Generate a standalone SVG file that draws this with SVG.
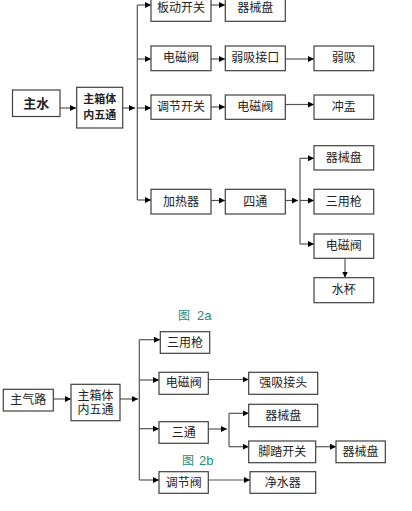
<svg xmlns="http://www.w3.org/2000/svg" width="412" height="511" viewBox="0 0 412 511">
<defs>
<marker id="ah" viewBox="0 0 10 10" refX="10" refY="5" markerWidth="6" markerHeight="6" orient="auto" markerUnits="userSpaceOnUse">
<path d="M0,0 L10,5 L0,10 z" fill="#000"/>
</marker>
</defs>
<style>
.b{fill:#fff;stroke:#404040;stroke-width:1.2}
.t{font-family:"Liberation Sans","Noto Sans CJK SC",sans-serif;font-size:12px;fill:#222;text-anchor:middle;dominant-baseline:central}
.bold{font-weight:bold}
.c{fill:none;stroke:#555;stroke-width:1.2}
.a{fill:none;stroke:#555;stroke-width:1.2;marker-end:url(#ah)}
.cap{font-family:"Liberation Sans","Noto Sans CJK SC",sans-serif;font-size:12px;fill:#1f8a7a}
</style>
<rect width="412" height="511" fill="#fff"/>
<g id="connectors">
<!-- top diagram -->
<path class="a" d="M60,108 H76"/>
<path class="a" d="M123,108 H135"/>
<path class="c" d="M137.3,5 V200"/>
<path class="a" d="M137.3,5 H151"/>
<path class="a" d="M137.3,59 H151"/>
<path class="a" d="M137.3,108 H151"/>
<path class="a" d="M137.3,200 H151"/>
<path class="a" d="M211,5 H225"/>
<path class="a" d="M211,59 H225"/>
<path class="a" d="M285,59 H314"/>
<path class="a" d="M211,107 H225"/>
<path class="a" d="M285,104.5 H314"/>
<path class="a" d="M211,200.5 H225"/>
<path class="a" d="M285,200.5 H298"/>
<path class="c" d="M300,158.3 V244"/>
<path class="a" d="M300,158.3 H314"/>
<path class="a" d="M300,200.5 H314"/>
<path class="a" d="M300,244 H314"/>
<path class="a" d="M345,258.5 V277.5"/>
<!-- bottom diagram -->
<path class="a" d="M53.5,399 H71"/>
<path class="a" d="M120,399 H138"/>
<path class="c" d="M139.3,339.7 V480"/>
<path class="a" d="M139.3,339.7 H160"/>
<path class="a" d="M139.3,380 H159"/>
<path class="a" d="M139.3,428.7 H159"/>
<path class="a" d="M139.3,480 H159"/>
<path class="a" d="M208.3,379.5 H248.7"/>
<path class="a" d="M208.3,429 H227"/>
<path class="c" d="M229,413.3 V446.7"/>
<path class="a" d="M229,413.3 H248.7"/>
<path class="a" d="M229,446.7 H248.7"/>
<path class="a" d="M315.7,446.7 H336"/>
<path class="a" d="M208.3,480 H250"/>
</g>
<g id="n_zhushui"><rect class="b" x="12.5" y="90" width="47.5" height="26.5"/><text class="t bold" x="36.2" y="103.3" style="font-size:13px">主水</text></g>
<g id="n_wutong1"><rect class="b" x="76.7" y="87.3" width="46" height="40.7"/><text class="t bold" x="99.7" y="99" style="font-size:11px">主箱体</text><text class="t bold" x="99.7" y="115" style="font-size:11px">内五通</text></g>
<g id="n_bandong"><rect class="b" x="151" y="-5" width="60" height="26.3"/><text class="t" x="181" y="8">板动开关</text></g>
<g id="n_qixie1"><rect class="b" x="225.3" y="-5" width="60" height="26.3"/><text class="t" x="255.3" y="8">器械盘</text></g>
<g id="n_dianci1"><rect class="b" x="151" y="46" width="60" height="24.7"/><text class="t" x="181" y="58.3">电磁阀</text></g>
<g id="n_ruoxijk"><rect class="b" x="225.3" y="46" width="60" height="24.7"/><text class="t" x="255.3" y="58.3">弱吸接口</text></g>
<g id="n_ruoxi"><rect class="b" x="314" y="46" width="59.7" height="24.7"/><text class="t" x="343.8" y="58.3">弱吸</text></g>
<g id="n_tiaojie"><rect class="b" x="151" y="95" width="60" height="24.3"/><text class="t" x="181" y="107.2">调节开关</text></g>
<g id="n_dianci2"><rect class="b" x="225.3" y="95" width="60" height="24.3"/><text class="t" x="255.3" y="107.2">电磁阀</text></g>
<g id="n_chongyu"><rect class="b" x="314" y="95" width="59.7" height="24.3"/><text class="t" x="343.8" y="107.2">冲盂</text></g>
<g id="n_jiare"><rect class="b" x="151" y="189.3" width="60" height="24.7"/><text class="t" x="181" y="201.6">加热器</text></g>
<g id="n_sitong"><rect class="b" x="225.3" y="189.3" width="60" height="24.7"/><text class="t" x="255.3" y="201.6">四通</text></g>
<g id="n_qixie2"><rect class="b" x="314" y="145.7" width="59.7" height="24.3"/><text class="t" x="343.8" y="157.8">器械盘</text></g>
<g id="n_sanyong1"><rect class="b" x="314" y="189.3" width="59.7" height="24.7"/><text class="t" x="343.8" y="201.6">三用枪</text></g>
<g id="n_dianci3"><rect class="b" x="314" y="234" width="59.7" height="24.3"/><text class="t" x="343.8" y="246.2">电磁阀</text></g>
<g id="n_shuibei"><rect class="b" x="314" y="277.7" width="59.7" height="25"/><text class="t" x="343.8" y="290.2">水杯</text></g>
<g id="cap_2a"><text class="cap" x="178" y="320">图</text><text class="cap" x="197" y="320" style="font-size:13px">2a</text></g>
<g id="n_zhuqilu"><rect class="b" x="3.3" y="389.3" width="50" height="21.7"/><text class="t" x="28.3" y="400.2">主气路</text></g>
<g id="n_wutong2"><rect class="b" x="71" y="384.3" width="49" height="36.4"/><text class="t" x="95.5" y="396">主箱体</text><text class="t" x="95.5" y="410">内五通</text></g>
<g id="n_sanyong2"><rect class="b" x="160.3" y="331.7" width="49.4" height="21.6"/><text class="t" x="185" y="342.5">三用枪</text></g>
<g id="n_dianci4"><rect class="b" x="159" y="372.3" width="49.3" height="22"/><text class="t" x="183.7" y="383.3">电磁阀</text></g>
<g id="n_qiangxi"><rect class="b" x="248.7" y="372.3" width="69" height="22"/><text class="t" x="283.2" y="383.3">强吸接头</text></g>
<g id="n_santong"><rect class="b" x="159" y="421.7" width="49.3" height="21.6"/><text class="t" x="183.7" y="432.5">三通</text></g>
<g id="n_qixie3"><rect class="b" x="248.7" y="404.3" width="69" height="22.4"/><text class="t" x="283.2" y="415.5">器械盘</text></g>
<g id="n_jiaota"><rect class="b" x="248.7" y="441" width="67" height="21.7"/><text class="t" x="282.2" y="451.8">脚踏开关</text></g>
<g id="n_qixie4"><rect class="b" x="336" y="441" width="49.3" height="21.7"/><text class="t" x="360.6" y="451.8">器械盘</text></g>
<g id="cap_2b"><text class="cap" x="182" y="465">图</text><text class="cap" x="199" y="465" style="font-size:13px">2b</text></g>
<g id="n_tiaojiefa"><rect class="b" x="159" y="471.7" width="49.3" height="21.6"/><text class="t" x="183.7" y="482.5">调节阀</text></g>
<g id="n_jingshui"><rect class="b" x="250" y="471.7" width="65.7" height="21.6"/><text class="t" x="282.8" y="482.5">净水器</text></g>
</svg>
